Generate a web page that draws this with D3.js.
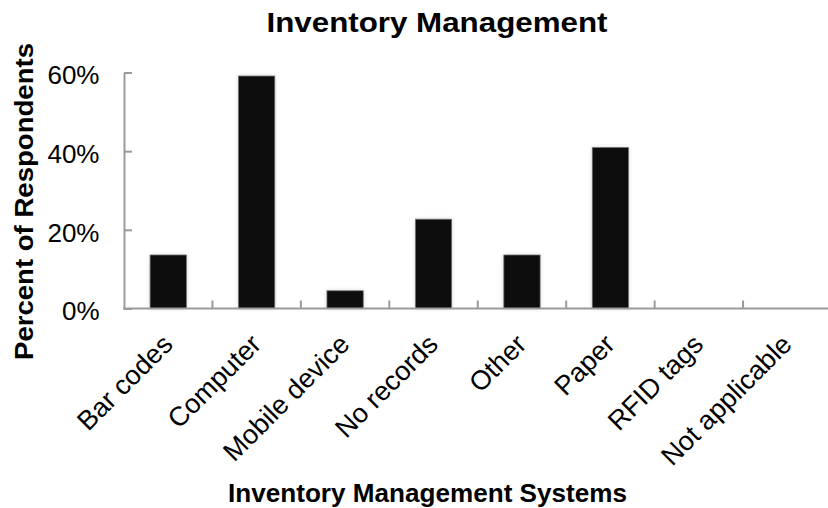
<!DOCTYPE html>
<html><head><meta charset="utf-8">
<script src="https://cdn.jsdelivr.net/npm/d3@7"></script>
<style>body{margin:0;background:#fff}svg{display:block}text{font-family:"Liberation Sans",Arial,Helvetica,sans-serif;fill:#000}</style>
</head><body><svg id="c" width="828" height="508"></svg>
<script>
const categories = ["Bar codes","Computer","Mobile device","No records","Other","Paper","RFID tags","Not applicable"];
const values = [13.6, 59.1, 4.5, 22.7, 13.6, 40.9, 0, 0];
const yTicks = [0, 20, 40, 60];
const title = "Inventory Management";
const xTitle = "Inventory Management Systems";
const yTitle = "Percent of Respondents";

const svg = d3.select("#c");
const defs = svg.append("defs");
const f = defs.append("filter").attr("id","sh").attr("x","-30%").attr("y","-30%").attr("width","160%").attr("height","160%");
f.append("feGaussianBlur").attr("in","SourceAlpha").attr("stdDeviation",2).attr("result","b");
f.append("feComponentTransfer").attr("in","b").attr("result","b2").append("feFuncA").attr("type","linear").attr("slope",0.15);
const m = f.append("feMerge"); m.append("feMergeNode").attr("in","b2"); m.append("feMergeNode").attr("in","SourceGraphic");

const x = d3.scaleBand().domain(categories).range([124, 831.5]).paddingInner(0.59).paddingOuter(0.295);
const y = d3.scaleLinear().domain([0, 60]).range([308.5, 72.5]);

// bars
svg.append("g").selectAll("rect").data(categories).join("rect")
  .attr("x", d => x(d)).attr("width", x.bandwidth())
  .attr("y", (d,i) => y(values[i])).attr("height", (d,i) => y(0) - y(values[i]))
  .attr("fill", "#0b0b0b").attr("stroke", "#6e6e6e").attr("stroke-width", 0.8)
  .attr("filter", "url(#sh)")
  .style("display", (d,i) => values[i] > 0 ? null : "none");

// y axis
const ya = svg.append("g").attr("transform", "translate(124,0)")
  .call(d3.axisLeft(y).tickValues(yTicks).tickFormat(d => d + "%").tickSizeInner(-8).tickSizeOuter(0).tickPadding(24.5));
ya.select(".domain").attr("stroke", "#9a9a9a").attr("stroke-width", 2);
ya.selectAll(".tick line").attr("stroke", "#9a9a9a").attr("stroke-width", 2);
ya.selectAll(".tick text").attr("font-size", 26).attr("font-family", null).attr("dy", "0.44em").attr("fill", "#000");

// x axis
const step = x.step();
const x0 = x.range()[0];
const xa = svg.append("g");
xa.append("line").attr("x1", x0 - 1).attr("x2", 831.5).attr("y1", y(0)).attr("y2", y(0))
  .attr("stroke", "#9a9a9a").attr("stroke-width", 2);
xa.selectAll("line.t").data(categories).join("line").attr("class", "t")
  .attr("x1", (d,i) => x0 + (i+1)*step).attr("x2", (d,i) => x0 + (i+1)*step)
  .attr("y1", y(0)).attr("y2", y(0) - 8)
  .attr("stroke", "#9a9a9a").attr("stroke-width", 2);
xa.selectAll("text").data(categories).join("text")
  .attr("transform", d => `translate(${x(d) + x.bandwidth()/2 + 6},346) rotate(-45)`)
  .attr("text-anchor", "end").attr("font-size", 27).text(d => d);

// titles
svg.append("text").attr("x", 437).attr("y", 32).attr("text-anchor", "middle")
  .attr("font-size", 28).attr("font-weight", "bold").attr("textLength", 341).attr("lengthAdjust", "spacingAndGlyphs").text(title);
svg.append("text").attr("x", 427.5).attr("y", 502).attr("text-anchor", "middle")
  .attr("font-size", 26).attr("font-weight", "bold").attr("textLength", 399).attr("lengthAdjust", "spacingAndGlyphs").text(xTitle);
svg.append("text").attr("transform", "translate(33,201.5) rotate(-90)").attr("text-anchor", "middle")
  .attr("font-size", 26).attr("font-weight", "bold").attr("textLength", 317).attr("lengthAdjust", "spacingAndGlyphs").text(yTitle);
</script></body></html>
